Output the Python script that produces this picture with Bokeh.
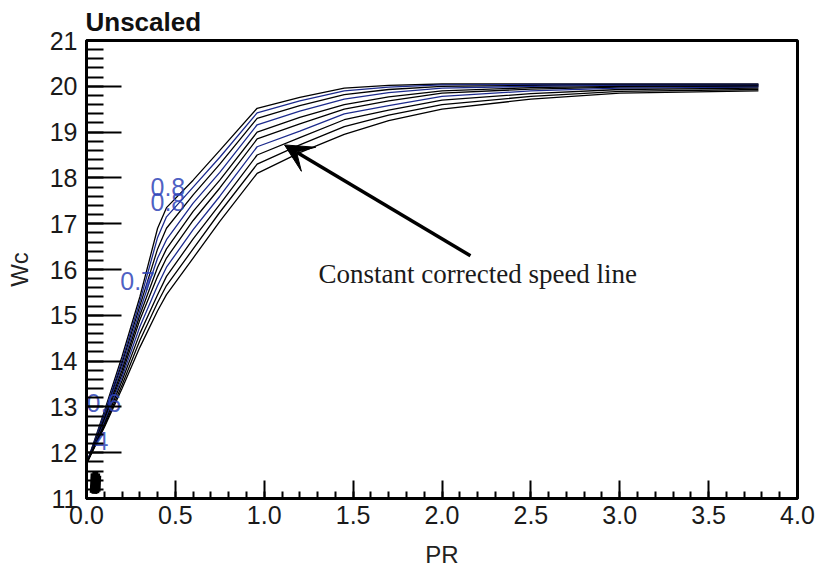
from bokeh.plotting import figure
from bokeh.models import (SingleIntervalTicker, PrintfTickFormatter, Arrow, VeeHead,
                          Label, Range1d, ColumnDataSource)
from bokeh.core.properties import value
from bokeh.embed import file_html
from bokeh.resources import INLINE

# ---------------- data ----------------
pr = [0.0, 0.1, 0.2, 0.3, 0.4, 0.45, 0.6, 0.75, 0.96, 1.2, 1.45, 1.7, 2.0, 2.5, 3.0, 3.78]

speed_1 = [11.76, 12.90, 14.10, 15.40, 16.90, 17.35, 17.95, 18.60, 19.52, 19.76, 19.96, 20.02, 20.05, 20.05, 20.05, 20.05]
speed_2 = [11.76, 12.85, 14.02, 15.30, 16.70, 17.15, 17.80, 18.45, 19.42, 19.68, 19.90, 19.98, 20.03, 20.04, 20.04, 20.04]
speed_3 = [11.76, 12.80, 13.95, 15.20, 16.45, 16.90, 17.63, 18.30, 19.30, 19.58, 19.82, 19.93, 20.00, 20.02, 20.03, 20.03]
speed_4 = [11.76, 12.78, 13.88, 15.10, 16.25, 16.65, 17.45, 18.12, 19.16, 19.46, 19.72, 19.86, 19.96, 20.00, 20.02, 20.02]
speed_5 = [11.76, 12.74, 13.80, 15.00, 16.05, 16.45, 17.27, 17.95, 19.00, 19.32, 19.60, 19.77, 19.90, 19.97, 20.00, 20.01]
speed_6 = [11.76, 12.70, 13.72, 14.90, 15.85, 16.25, 17.07, 17.78, 18.85, 19.18, 19.50, 19.68, 19.85, 19.94, 19.98, 20.00]
speed_7 = [11.76, 12.66, 13.65, 14.75, 15.65, 16.05, 16.87, 17.60, 18.68, 19.02, 19.40, 19.58, 19.78, 19.90, 19.96, 19.98]
speed_8 = [11.76, 12.62, 13.57, 14.60, 15.45, 15.85, 16.67, 17.42, 18.50, 18.88, 19.27, 19.48, 19.70, 19.84, 19.93, 19.96]
speed_9 = [11.76, 12.58, 13.48, 14.45, 15.28, 15.65, 16.45, 17.25, 18.30, 18.72, 19.12, 19.37, 19.60, 19.78, 19.89, 19.93]
speed_10 = [11.76, 12.55, 13.40, 14.30, 15.10, 15.45, 16.25, 17.05, 18.10, 18.55, 18.95, 19.25, 19.50, 19.72, 19.85, 19.90]

speed_lines = [speed_1, speed_2, speed_3, speed_4, speed_5,
               speed_6, speed_7, speed_8, speed_9, speed_10]
line_colors = ["black", "#1c2a8c", "black", "#1c2a8c", "black",
               "black", "#1c2a8c", "black", "black", "black"]

# low-speed points clustered near the origin
low_pr = [[0.035, 0.040], [0.045, 0.050], [0.055, 0.060], [0.062, 0.066]]
low_wc = [[11.12, 11.55], [11.10, 11.58], [11.12, 11.55], [11.15, 11.50]]

# speed labels
label_text = ["0.8", "0.8", "0.7", "0.6", "4"]
label_pr = [0.36, 0.36, 0.19, 0.0, 0.045]
label_wc = [17.80, 17.48, 15.74, 13.09, 12.26]

# annotation
note_text = "Constant corrected speed line"
note_pr, note_wc = 1.305, 15.91
arrow_tail = (2.16, 16.30)
arrow_tip = (1.114, 18.72)

title_text = "Unscaled"
x_label, y_label = "PR", "Wc"

# ---------------- figure ----------------
p = figure(width=816, height=572, x_range=Range1d(0, 4), y_range=Range1d(11, 21),
           output_backend="svg", toolbar_location=None,
           min_border_left=86, min_border_right=19, min_border_top=38, min_border_bottom=74,
           title=title_text)

p.title.text_font = "Liberation Sans"
p.title.text_font_size = "26px"
p.title.text_font_style = "bold"
p.title.text_color = "#111111"
p.title.standoff = 8
p.title.offset = -1

p.xgrid.visible = False
p.ygrid.visible = False
p.outline_line_color = "black"
p.outline_line_width = 3
p.outline_line_alpha = 1.0

for ax in (p.xaxis[0], p.yaxis[0]):
    ax.axis_line_width = 3
    ax.axis_line_color = "black"
    ax.major_tick_out = 0
    ax.minor_tick_out = 0
    ax.major_tick_line_width = 2
    ax.minor_tick_line_width = 2
    ax.major_tick_line_color = "black"
    ax.minor_tick_line_color = "black"
    ax.major_label_text_font = "Liberation Sans"
    ax.major_label_text_font_size = "25px"
    ax.major_label_text_color = "#1a1a1a"
    ax.axis_label_text_font = "Liberation Sans"
    ax.axis_label_text_font_size = "24px"
    ax.axis_label_text_font_style = "normal"
    ax.axis_label_text_color = "#222222"

p.xaxis.ticker = SingleIntervalTicker(interval=0.5, num_minor_ticks=5)
p.xaxis.formatter = PrintfTickFormatter(format="%.1f")
p.xaxis.major_tick_in = 18
p.xaxis.minor_tick_in = 7
p.xaxis.major_label_standoff = 7
p.xaxis.axis_label = x_label
p.xaxis.axis_label_standoff = 14

p.yaxis.ticker = SingleIntervalTicker(interval=1, num_minor_ticks=5)
p.yaxis.formatter = PrintfTickFormatter(format="%d")
p.yaxis.major_tick_in = 35
p.yaxis.minor_tick_in = 17
p.yaxis.major_label_standoff = 9
p.yaxis.axis_label = y_label
p.yaxis.axis_label_standoff = 14

for wc, col in zip(speed_lines, line_colors):
    p.line(pr, wc, line_color=col, line_width=1.3)

p.multi_line(low_pr, low_wc, line_color="black", line_width=6)

lab_src = ColumnDataSource(dict(x=label_pr, y=label_wc, t=label_text))
p.text(x="x", y="y", text="t", source=lab_src, text_font=value("Liberation Sans"),
       text_font_size="25px", text_color="#2f44b8", text_alpha=0.85,
       text_baseline="middle", text_align="left")

p.add_layout(Label(x=note_pr, y=note_wc, text=note_text, text_font="Liberation Serif",
                   text_font_size="27px", text_color="#1a1a1a", text_baseline="middle",
                   text_align="left"))

p.add_layout(Arrow(end=VeeHead(size=28, fill_color="black", line_color="black"),
                   x_start=arrow_tail[0], y_start=arrow_tail[1],
                   x_end=arrow_tip[0], y_end=arrow_tip[1],
                   line_width=3.5, line_color="black"))

open("out.html", "w").write(file_html(p, INLINE))
